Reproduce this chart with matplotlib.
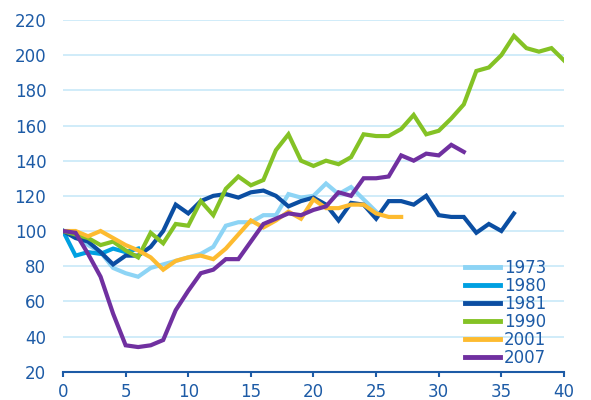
import numpy as np
import matplotlib
matplotlib.use("Agg")
import matplotlib.pyplot as plt

# values, index = years since start
y1973 = [100, 97, 92, 88, 79, 76, 74, 79, 81, 83, 85, 87, 91, 103, 105, 105,
         109, 109, 121, 119, 120, 127, 121, 125, 118, 111]
y1980 = [100, 86, 88, 87, 90, 88, 90]
y1981 = [100, 96, 94, 88, 81, 86, 86, 91, 100, 115, 110, 117, 120, 121, 119, 122,
         123, 120, 114, 117, 119, 115, 106, 116, 115, 107, 117, 117, 115, 120,
         109, 108, 108, 99, 104, 100, 110]
y1990 = [100, 98, 96, 92, 94, 89, 85, 99, 93, 104, 103, 117, 109, 124, 131, 126,
         129, 146, 155, 140, 137, 140, 138, 142, 155, 154, 154, 158, 166, 155,
         157, 164, 172, 191, 193, 200, 211, 204, 202, 204, 197]
y2001 = [100, 100, 97, 100, 96, 92, 89, 85, 78, 83, 85, 86, 84, 90, 98, 106,
         102, 106, 111, 107, 118, 113, 113, 115, 115, 110, 108, 108]
y2007 = [100, 99, 87, 74, 53, 35, 34, 35, 38, 55, 66, 76, 78, 84, 84, 94, 104,
         107, 110, 109, 112, 114, 122, 120, 130, 130, 131, 143, 140, 144, 143,
         149, 145]

series = [("1973", y1973, "#8dd4f5"),
          ("1980", y1980, "#00a0e1"),
          ("1981", y1981, "#0b4ea2"),
          ("1990", y1990, "#84c225"),
          ("2001", y2001, "#fdbb30"),
          ("2007", y2007, "#7030a0")]

text_col = "#1d5ba6"
grid_col = "#cdebf9"

fig = plt.figure(figsize=(5.91, 4.0), dpi=100)
ax = fig.add_axes([0.1066, 0.0708, 0.8477, 0.8792])

for label, vals, col in series:
    ax.plot(np.arange(len(vals)), vals, color=col, lw=3, label=label,
            solid_joinstyle="miter", zorder=3)

ax.set_xlim(0, 40)
ax.set_ylim(20, 220)
ax.set_xticks(range(0, 41, 5))
ax.set_yticks(range(20, 221, 20))
ax.grid(axis="y", color=grid_col, lw=1.3, zorder=0)
ax.set_axisbelow(True)

for s in ["top", "right", "left"]:
    ax.spines[s].set_visible(False)
ax.spines["bottom"].set_color(text_col)
ax.spines["bottom"].set_linewidth(1.5)

ax.tick_params(axis="y", length=0, pad=12, labelsize=12, labelcolor=text_col)
ax.tick_params(axis="x", length=3.5, width=1.5, color=text_col, pad=5,
               labelsize=12, labelcolor=text_col)

leg = ax.legend(loc="lower left", bbox_to_anchor=(0.79, -0.005), frameon=False,
                fontsize=12, handlelength=2.1, handletextpad=0.2,
                labelspacing=0.0, borderaxespad=0)
for t in leg.get_texts():
    t.set_color(text_col)
for h in leg.get_lines():
    h.set_linewidth(3.5)

fig.savefig("out.png", dpi=100)
